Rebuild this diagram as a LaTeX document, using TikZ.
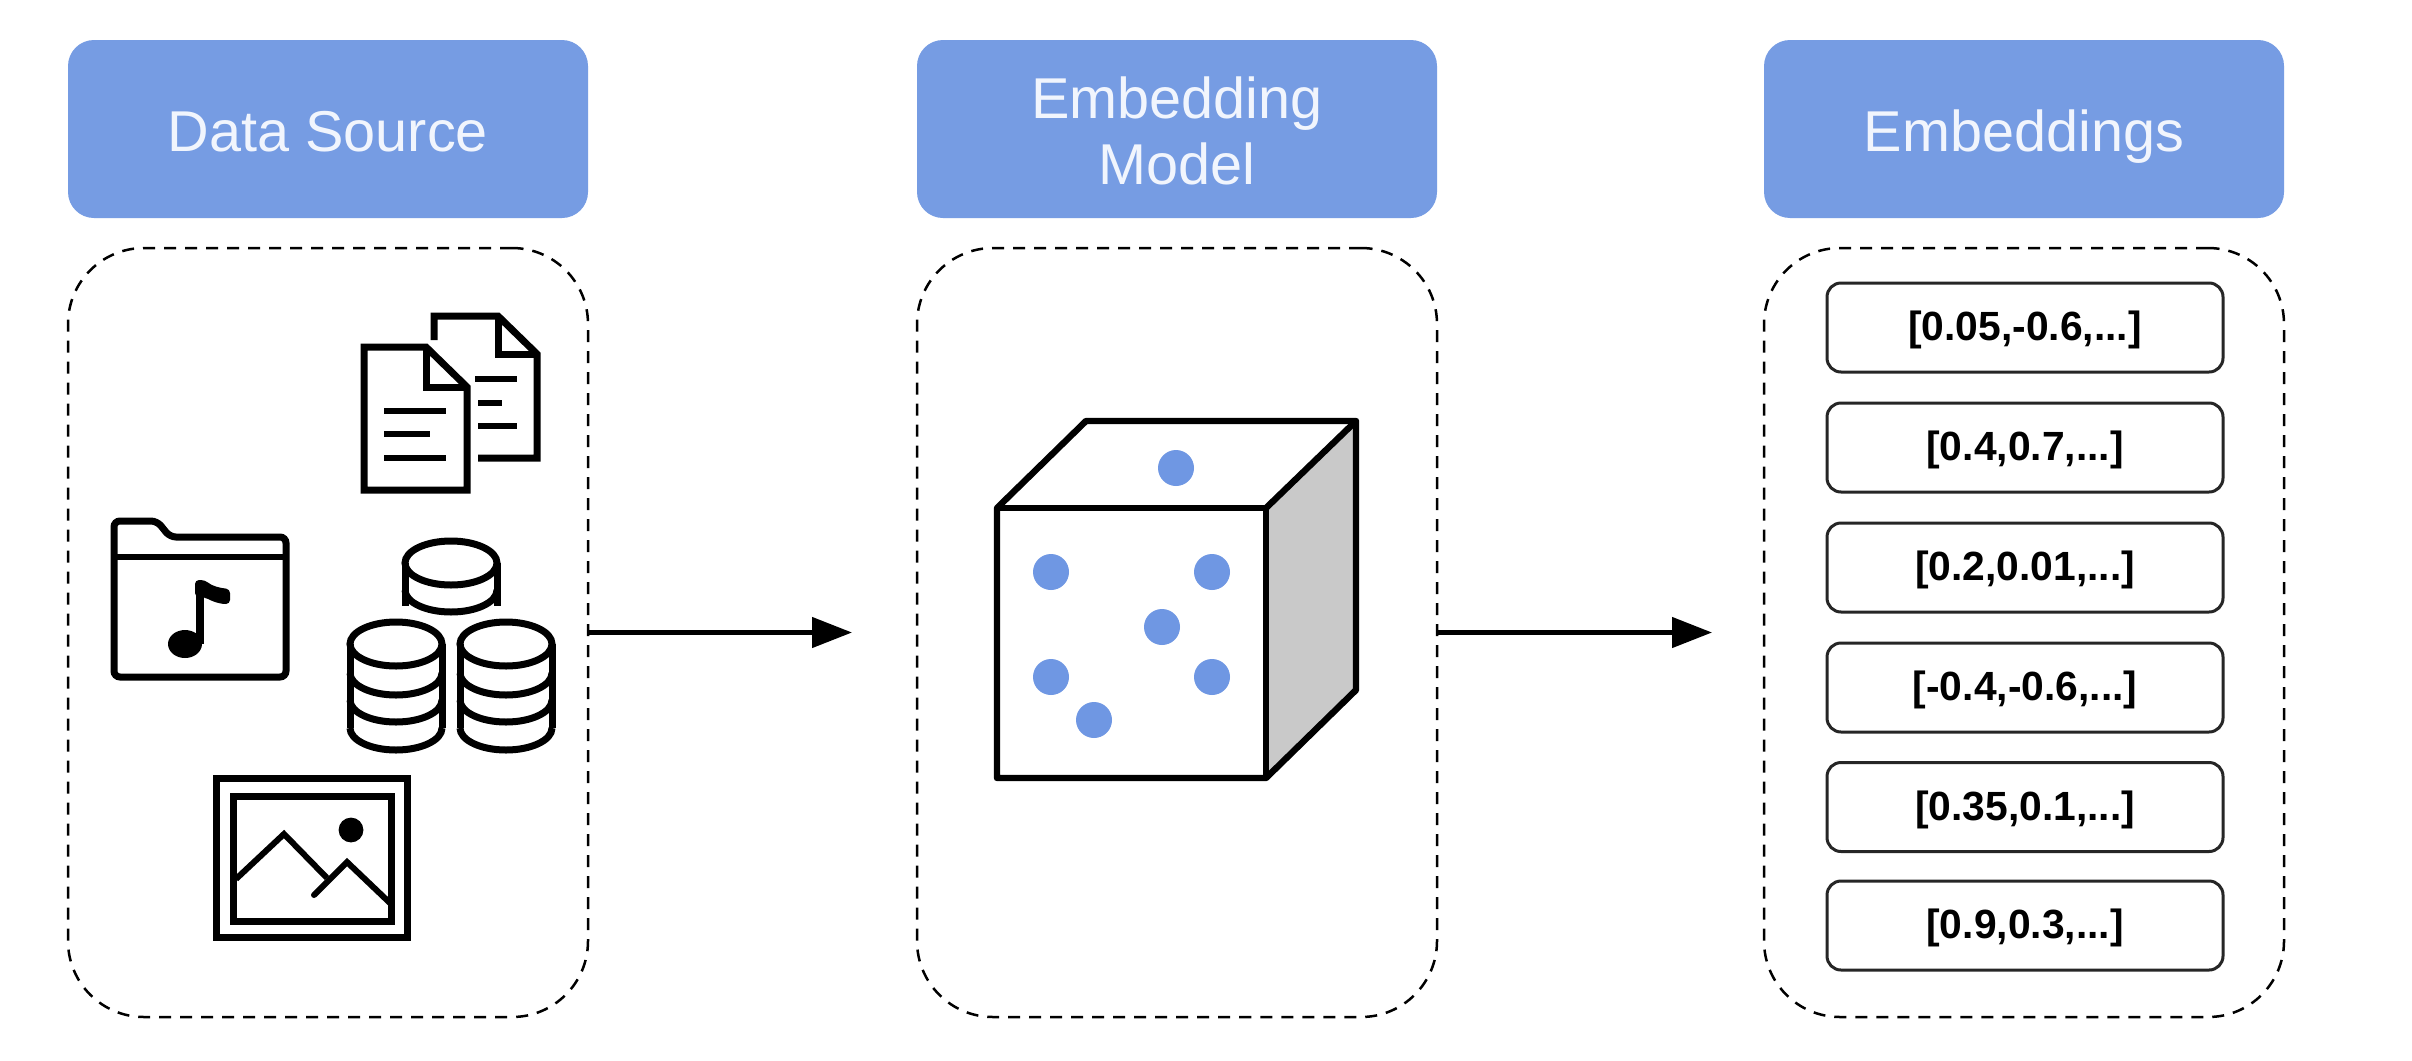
\documentclass[tikz,border=0pt]{standalone}
\usepackage{fontspec}
\setmainfont{Liberation Sans}
\usetikzlibrary{arrows.meta}
\definecolor{hdr}{HTML}{769CE3}
\definecolor{dot}{HTML}{6F97E3}
\definecolor{side}{HTML}{C9C9C9}
\definecolor{hdrtext}{HTML}{F1F5FD}
\newcommand{\lowarc}[2]{\draw[icon] (#1-46,#2) arc[start angle=180,end angle=360,x radius=23pt,y radius=11pt];}
\newcommand{\cylstack}[1]{%
  \draw[icon] (#1,644) ellipse[x radius=23pt,y radius=11pt];
  \draw[icon] (#1-46,644) -- (#1-46,728);
  \draw[icon] (#1+46,644) -- (#1+46,728);
  \lowarc{#1}{673}
  \lowarc{#1}{700}
  \lowarc{#1}{728}
}
\tikzset{
  x=0.5pt,y=-0.5pt,
  header/.style={fill=hdr,draw=none,rounded corners=13pt,minimum width=260pt,minimum height=89pt,
    outer sep=0pt,inner sep=0pt,text=hdrtext,font=\fontsize{28.8}{33}\selectfont,align=center,text depth=0pt},
  panel/.style={draw=black,line width=1.25pt,dash pattern=on 6pt off 4.5pt,rounded corners=38pt,
    minimum width=260pt,minimum height=384.5pt,outer sep=0pt,inner sep=0pt},
  vec/.style={draw=black!85,line width=1.5pt,rounded corners=7pt,minimum width=198pt,minimum height=44.5pt,
    outer sep=0pt,inner sep=0pt},
  vectext/.style={font=\fontsize{20.4}{24}\selectfont\bfseries,inner sep=0pt},
  icon/.style={draw=black,line width=3.5pt},
  thin icon/.style={draw=black,line width=3pt},
  cube/.style={draw=black,line width=3.2pt,line join=round},
  bead/.style={circle,fill=dot,minimum size=18pt,inner sep=0pt,draw=none},
  flow/.style={draw=black,line width=2.3pt,-{Triangle[length=20pt,width=15pt]}},
}
\begin{document}
\begin{tikzpicture}
\useasboundingbox (0,0) rectangle (2412,1060);
\fill[white] (0,0) rectangle (2412,1060);
% headers
\node[header] (h1) at (328,129) {};
\node[header] (h2) at (1177,129) {};
\node[header] (h3) at (2024,129) {};
\node[header,fill=none,minimum width=0pt,minimum height=0pt] (t1) at (328,131) {Data Source};
\node[header,fill=none,minimum width=0pt,minimum height=0pt] (t2) at (1177,131) {Embedding\\Model};
\node[header,fill=none,minimum width=0pt,minimum height=0pt] (t3) at (2024,131) {Embeddings};
% panels
\node[panel] (p1) at (328,632.5) {};
\node[panel] (p2) at (1177,632.5) {};
\node[panel] (p3) at (2024,632.5) {};
% arrows
\coordinate (e1) at (852,632.5);
\coordinate (e2) at (1712,632.5);
\draw[flow] (p1.east) -- (e1);
\draw[flow] (p2.east) -- (e2);
% vectors
\node[vec] (v1) at (2025,327.5) {};
\node[vec] (v2) at (2025,447.5) {};
\node[vec] (v3) at (2025,567.5) {};
\node[vec] (v4) at (2025,687.5) {};
\node[vec] (v5) at (2025,807) {};
\node[vec] (v6) at (2025,925.5) {};
\node[vectext] (w1) at (2025,330) {[0.05,-0.6,...]};
\node[vectext] (w2) at (2025,450) {[0.4,0.7,...]};
\node[vectext] (w3) at (2025,570) {[0.2,0.01,...]};
\node[vectext] (w4) at (2025,690) {[-0.4,-0.6,...]};
\node[vectext] (w5) at (2025,809.5) {[0.35,0.1,...]};
\node[vectext] (w6) at (2025,928) {[0.9,0.3,...]};
% cube
\fill[side] (1266,508) -- (1356,421) -- (1356,690) -- (1266,778) -- cycle;
\draw[cube] (997,508) -- (1086,421) -- (1356,421) -- (1356,690) -- (1266,778) -- (997,778) -- cycle;
\draw[cube] (997,508) -- (1266,508) -- (1266,778);
\draw[cube] (1266,508) -- (1356,421);
\node[bead] (d1) at (1176,468) {};
\node[bead] (d2) at (1051,572) {};
\node[bead] (d3) at (1212,572) {};
\node[bead] (d4) at (1162,627) {};
\node[bead] (d5) at (1051,677) {};
\node[bead] (d6) at (1212,677) {};
\node[bead] (d7) at (1094,720) {};
% back document
\draw[icon,line join=miter] (434,340) -- (434,316) -- (498,316) -- (537,354) -- (537,458) -- (478,458);
\draw[icon] (498,316) -- (498,354) -- (537,354);
\draw[thin icon] (475,379) -- (517,379);
\draw[thin icon] (478,403) -- (502,403);
\draw[thin icon] (478,426) -- (517,426);
% front document
\draw[icon] (364,347) -- (426,347) -- (467,387) -- (467,490) -- (364,490) -- cycle;
\draw[icon] (426,347) -- (426,387) -- (467,387);
\draw[thin icon] (384,411) -- (446,411);
\draw[thin icon] (384,434) -- (430,434);
\draw[thin icon] (384,458) -- (446,458);
% folder
\draw[icon,rounded corners=3pt] (114,521) -- (157,521) -- (170,537) -- (286,537) -- (286,677) -- (114,677) -- cycle;
\draw[thin icon] (114,557) -- (286,557);
\draw[line width=4pt] (199.5,644) -- (199.5,584);
\fill (185,644) ellipse[x radius=8.5pt,y radius=7pt];
\fill[rounded corners=2pt] (195,580) -- (205,580) .. controls (212,586) and (220,588) .. (230,589) -- (230,604) .. controls (218,604) and (210,600) .. (204,597) -- (195,597) -- cycle;
% databases
\draw[icon] (451,563) ellipse[x radius=23pt,y radius=11pt];
\draw[icon] (405,563) -- (405,606);
\draw[icon] (497,563) -- (497,606);
\draw[icon] (405,590) arc[start angle=180,end angle=360,x radius=23pt,y radius=11pt];
\cylstack{396}
\cylstack{506}
% picture
\draw[icon,line join=miter] (216,778) rectangle (407,937);
\draw[icon,line join=miter] (233,796) rectangle (391,921);
\draw[thin icon] (236,879) -- (284,834) -- (327,878);
\draw[thin icon,line cap=round] (314,895) -- (347,862) -- (390,903);
\fill (351,830) circle[radius=6.2pt];
\end{tikzpicture}
\end{document}
